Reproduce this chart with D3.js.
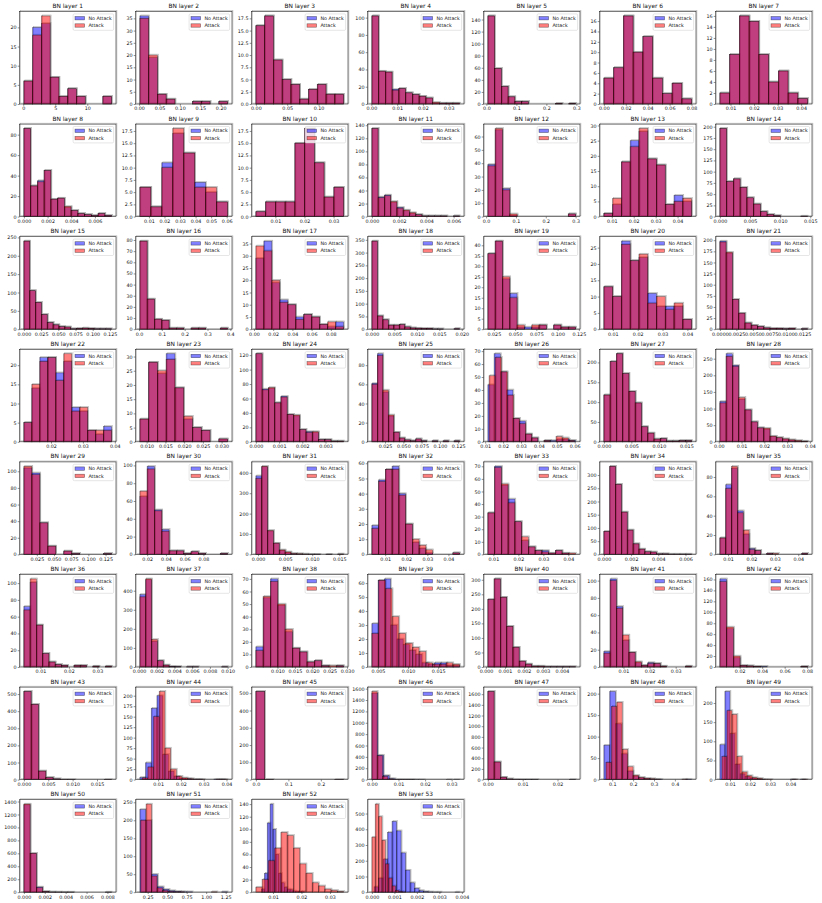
<!DOCTYPE html>
<html><head><meta charset="utf-8">
<script src="https://cdn.jsdelivr.net/npm/d3@7/dist/d3.min.js"></script>
<style>
body{margin:0;background:#fff}
svg{display:block}
text{font-family:"DejaVu Sans",sans-serif;fill:#111}
</style>
</head><body>
<svg id="chart" width="822" height="903"></svg>
<script>
// ---------------- DATA ----------------
const layerTitles = d3.range(1, 54).map(i => "BN layer " + i);
const seriesNames = ["No Attack", "Attack"];

// [first bin edge, bin width] for "No Attack"
const noAttackBins = [
 [0.1,1.37],[0.002,0.0215],[0.0,0.014],[0.0002,0.00262],[0.005,0.0225],[0.0,0.0089],[0.0055,0.00414],
 [0.0,0.00057],[0.0042,0.00705],[0.0033,0.00335],[0.0,0.00046],[0.006,0.0245],[0.0064,0.004],[0.0,0.00112],
 [0.0,0.0085],[0.004,0.032],[0.002,0.0083],[0.0,0.00122],[0.018,0.0086],[0.0064,0.00353],[0.0,0.00095],
 [0.0115,0.0025],[0.0082,0.00234],[0.0,0.00027],[0.007,0.0075],[0.0115,0.0035],[0.0,0.00114],[0.0005,0.00275],
 [0.0062,0.0116],[0.0122,0.0078],[-0.0004,0.00108],[0.0037,0.0032],[0.0078,0.0027],[0.0,0.00043],[0.0065,0.0025],
 [0.0042,0.0022],[0.0001,0.00066],[0.0038,0.0021],[0.004,0.00104],[0.0001,0.00033],[0.0025,0.0024],[0.0024,0.006],
 [0.0,0.0015],[0.002,0.0025],[0.0,0.027],[0.0,0.0022],[0.0,0.0018],[0.06,0.028],[0.005,0.0025],
 [0.0,0.0006],[0.15,0.075],[0.006,0.001],[0.0001,0.0002]
];
// bin layout for "Attack" where it differs (null = same bins as "No Attack")
const attackBins = [
 null,null,null,null,null,null,null,
 null,null,null,null,null,null,null,
 null,null,null,null,null,null,null,
 null,null,null,null,[0.0122,0.0034],null,null,
 null,null,null,null,null,null,null,
 null,null,null,[0.004,0.00112],null,null,null,
 null,[0.003,0.0025],null,[0.0,0.002],null,[0.07,0.026],[0.006,0.0025],
 null,[0.16,0.07],[0.004,0.0022],[0.0,0.00015]
];
const noAttackCounts = [
 [6,20,21,7,2,4,2,0,0,2],
 [36,19,4,2,0,0,1,1,0,1],
 [16,18,9,5,4,1,3,4,2,2],
 [102,38,37,17,18,13,11,9,7,1,1,1,1],
 [146,59,29,12,4,4,0,0,0,0,1,0,1],
 [5,7,17,10,13,5,2,4,1],
 [2,9,16,15,9,4,6,2,1],
 [86,30,35,45,17,18,9,6,3,2,1,3,1],
 [6,2,11,17,13,7,5,3],
 [1,3,3,3,15,18,11,4,6],
 [135,30,33,22,14,9,5,3,1,1,1,1,0,1],
 [39,65,21,1,0,0,0,0,0,0,0,2],
 [1,4,18,25,28,19,17,4,7,5],
 [196,78,84,65,42,28,11,5,2,0,0,0,1],
 [240,105,73,40,18,12,7,6,1,2,3,2,1,1,1],
 [79,27,9,8,1,1,0,1,1,0,0,1],
 [29,36,19,12,10,5,6,5,2,1,3],
 [345,52,37,16,16,18,9,5,4,3,3,1,1,0,0,2],
 [36,42,24,17,1,1,1,2,0,2,1,1],
 [13,10,27,21,22,11,7,7,7,3],
 [198,171,67,36,14,9,6,3,2,2,1,2,0,1],
 [5,14,22,22,18,21,9,8,3,2,4],
 [8,28,24,31,19,8,5,4,0,1],
 [122,73,74,54,63,38,36,17,14,13,3,3,1,1],
 [61,92,52,27,10,4,2,1,3,1,0,1,0,1,0,1],
 [44,68,54,40,18,16,6,3,0,1,1,2,2,1],
 [118,202,222,172,127,98,38,22,7,8,2,2,3,3],
 [121,265,230,128,96,60,42,38,16,12,8,5,2,1],
 [104,98,38,10,0,4,1,0,0,0,1],
 [65,99,50,28,4,4,1,3,1,0,0,1],
 [385,430,115,55,20,9,3,2,1,1,1,0,1,0,1],
 [19,49,56,58,40,20,8,4,1,0,0,0,1],
 [33,70,55,44,26,11,6,3,3,1,3,1,0],
 [87,333,265,160,92,40,20,10,9,2,2,1,1,1,1],
 [17,72,89,45,21,6,4,0,1,0,0,0,0,0,1],
 [72,101,50,16,6,3,2,0,2,2,0,1,0,1],
 [380,458,135,33,10,3,2,0,1,1,0,0,0,0,1],
 [16,55,70,49,28,15,12,4,5,1,0,1],
 [31,62,63,30,20,16,12,9,3,2,3,3,1,1],
 [232,303,240,140,68,20,10,3,3,1,1,1,1,1],
 [18,102,70,31,17,5,2,5,4,1,0,0,0,1],
 [161,70,17,3,2,1,1,0,0,0,0,0,1],
 [515,440,50,12,4,1,1,0,0,0,0,1],
 [5,40,170,200,60,20,8,3,2,1,1,0,0,1,1],
 [510,1,0,0,0,0,0,0,0,1],
 [1520,430,70,15,5,3,2,1,1,0,0,0,0,0,1],
 [1650,330,45,12,5,3,1,1,0,0,0,0,0,1],
 [80,205,130,60,20,8,4,2,1,1,0,0,0,0,1],
 [91,230,120,40,15,8,4,2,1,0,0,0,0,0,1,0,1],
 [1350,600,80,10,3,2,1,1,0,0,0,0,0,1],
 [230,200,50,15,8,4,2,1,1,0,0,0,0,0,1],
 [5,30,110,140,100,60,30,15,8,5,4,2,1,1,1],
 [34,90,210,380,450,390,250,140,60,25,10,4,2,1,1,0,0,0,1]
];
const attackCounts = [
 [6,18,23,7,2,4,2,0,0,2],
 [35,20,4,2,0,0,1,1,0,1],
 [16,18,9,5,4,1,3,4,2,2],
 [102,38,37,16,18,13,11,9,7,2,1,1,1],
 [146,59,29,12,4,4,0,0,0,0,1,0,1],
 [5,7,17,10,13,5,2,4,1],
 [2,9,16,15,9,4,6,2,1],
 [86,30,34,45,17,18,10,6,3,2,1,3,1],
 [6,2,10,18,13,6,6,3],
 [1,3,3,3,15,18,11,4,6],
 [135,29,32,23,13,10,6,3,1,1,1,1,0,1],
 [38,66,20,2,0,0,0,0,0,0,0,2],
 [1,6,18,23,29,19,17,4,5,6],
 [196,78,84,65,42,28,11,5,2,0,0,0,1],
 [240,105,73,40,18,12,7,6,1,2,3,2,1,1,1],
 [79,27,9,8,1,1,0,1,1,0,0,1],
 [34,32,20,11,10,4,6,5,2,3,1],
 [345,52,37,16,16,18,9,5,4,3,3,1,1,0,0,2],
 [36,42,25,15,2,0,2,2,0,2,1,1],
 [13,10,26,21,23,8,10,6,8,3],
 [196,173,67,36,14,9,6,3,2,2,1,2,0,1],
 [5,15,21,22,16,23,8,9,3,3,3],
 [8,28,25,29,19,9,5,4,0,1],
 [122,72,75,54,62,38,37,17,13,14,3,3,1,1],
 [60,90,54,28,10,4,2,1,3,1,0,1,0,1,0,1],
 [51,65,54,36,18,14,6,3,0,1,0,4,3,1],
 [118,202,222,172,127,98,38,22,7,8,2,2,3,3],
 [117,257,227,133,96,60,42,41,17,13,9,6,4,2],
 [106,96,38,10,0,4,1,0,0,0,1],
 [71,96,49,26,4,4,1,3,1,0,0,1],
 [372,432,117,55,22,12,4,3,2,1,1,0,1,0,2],
 [17,48,56,56,39,20,10,6,3,0,0,0,1],
 [33,69,56,41,26,14,6,3,2,1,3,1,1],
 [87,333,265,160,92,40,20,10,9,2,2,1,1,1,1],
 [17,68,91,43,25,5,4,0,1,1,0,0,0,0,1],
 [68,105,50,16,6,3,2,0,2,2,0,1,0,1],
 [368,462,145,33,10,2,1,0,1,1,0,0,0,0,1],
 [13,56,68,50,30,15,12,4,5,1,1,1],
 [24,62,56,36,24,17,14,11,3,2,2,3,2],
 [232,303,240,140,68,20,10,3,3,1,1,1,1,1],
 [16,100,68,37,17,6,2,4,4,1,0,0,0,1],
 [156,73,20,3,2,1,0,0,0,0,0,0,1],
 [515,440,50,12,4,1,1,0,0,0,0,1],
 [4,30,150,210,75,25,8,4,2,1,1,0,0,1,1],
 [510,1,0,0,0,0,0,0,0,1],
 [1550,420,55,12,4,3,2,1,0,0,0,0,0,0,1],
 [1650,330,45,12,5,3,1,1,0,0,0,0,0,1],
 [40,170,180,70,30,10,5,3,2,1,0,0,0,0,1],
 [60,180,170,60,20,10,5,3,1,1,0,0,0,0,1,0,1],
 [1360,600,70,10,3,2,1,1,0,0,0,0,0,1],
 [200,245,45,12,5,2,1,1,0,0,0,0,0,1],
 [8,20,50,70,95,90,70,45,30,15,10,5,3,1],
 [350,560,480,330,180,90,40,12,4,2]
];
const xTickLabels = [
 ["0","5","10"],["0.00","0.05","0.10","0.15","0.20"],["0.00","0.05","0.10"],["0.00","0.01","0.02","0.03"],
 ["0.0","0.1","0.2","0.3"],["0.00","0.02","0.04","0.06","0.08"],["0.01","0.02","0.03","0.04"],
 ["0.000","0.002","0.004","0.006"],["0.01","0.02","0.03","0.04","0.05","0.06"],["0.01","0.02","0.03"],
 ["0.000","0.002","0.004","0.006"],["0.0","0.1","0.2","0.3"],["0.01","0.02","0.03","0.04"],
 ["0.000","0.005","0.010","0.015"],
 ["0.000","0.025","0.050","0.075","0.100","0.125"],["0.0","0.1","0.2","0.3","0.4"],
 ["0.00","0.02","0.04","0.06","0.08"],["0.000","0.005","0.010","0.015","0.020"],
 ["0.025","0.050","0.075","0.100","0.125"],["0.01","0.02","0.03","0.04"],
 ["0.0000","0.0025","0.0050","0.0075","0.0100","0.0125"],
 ["0.01","0.02","0.03","0.04"],["0.010","0.015","0.020","0.025","0.030"],
 ["0.000","0.001","0.002","0.003","0.004"],["0.025","0.050","0.075","0.100","0.125"],
 ["0.01","0.02","0.03","0.04","0.05","0.06"],["0.000","0.005","0.010","0.015"],
 ["0.00","0.01","0.02","0.03","0.04"],
 ["0.025","0.050","0.075","0.100","0.125"],["0.02","0.04","0.06","0.08"],
 ["0.000","0.005","0.010","0.015"],["0.01","0.02","0.03","0.04"],["0.01","0.02","0.03","0.04"],
 ["0.000","0.002","0.004","0.006"],["0.01","0.02","0.03","0.04"],
 ["0.01","0.02","0.03"],["0.000","0.002","0.004","0.006","0.008","0.010"],
 ["0.010","0.015","0.020","0.025","0.030"],["0.005","0.010","0.015"],
 ["0.000","0.001","0.002","0.003","0.004","0.005"],["0.01","0.02","0.03"],["0.02","0.04","0.06","0.08"],
 ["0.000","0.005","0.010","0.015"],["0.00","0.01","0.02","0.03","0.04"],["0.0","0.1","0.2"],
 ["0.00","0.01","0.02","0.03"],["0.00","0.01","0.02"],["0.1","0.2","0.3","0.4"],["0.01","0.02","0.03","0.04"],
 ["0.000","0.002","0.004","0.006","0.008"],["0.25","0.50","0.75","1.00","1.25"],["0.01","0.02","0.03"],
 ["0.000","0.001","0.002","0.003","0.004"]
];
const yTickStep = [
 5,5,2.5,20,20,2,2,
 20,2.5,2.5,20,10,5,25,
 50,10,5,50,5,5,25,
 5,5,20,20,10,50,50,
 20,20,100,10,10,50,20,
 20,100,10,10,50,20,20,
 100,25,100,200,200,50,50,
 200,50,20,100
];

// ---------------- LAYOUT ----------------
const W = 822, H = 903;
const nCols = 7;
const left0 = 19.5, colPitch = 116, axW = 96.5;
const top0 = 11.5, rowPitch = 112.6, axH = 92.5;
const colors = ["#0000ff", "#ff0000"];
const fsTick = 4.8, fsTitle = 5.9, fsLegend = 4.8;
const ghost = { dx: 0.9, dy: -0.9, color: "#b0b0b0" };

const svg = d3.select("#chart");
svg.append("rect").attr("width", W).attr("height", H).attr("fill", "#fff");

layerTitles.forEach((title, i) => {
  const c = i % nCols, r = Math.floor(i / nCols);
  const g = svg.append("g").attr("transform", `translate(${left0 + c * colPitch},${top0 + r * rowPitch})`);

  const series = [
    { bins: noAttackBins[i], counts: noAttackCounts[i] },
    { bins: attackBins[i] || noAttackBins[i], counts: attackCounts[i] }
  ].map(s => {
    const [x0, w] = s.bins;
    return s.counts.map((n, k) => ({ a: x0 + k * w, b: x0 + (k + 1) * w, n }));
  });

  const all = series.flat();
  const lo = d3.min(all, d => d.a), hi = d3.max(all, d => d.b);
  const span = hi - lo;
  const x = d3.scaleLinear().domain([lo - 0.05 * span, hi + 0.05 * span]).range([0, axW]);
  const yMax = d3.max(all, d => d.n) * 1.05;
  const y = d3.scaleLinear().domain([0, yMax]).range([axH, 0]);

  // faint offset outline (soft halo seen in the reference rendering)
  g.append("rect").attr("x", ghost.dx).attr("y", ghost.dy).attr("width", axW).attr("height", axH)
    .attr("fill", "none").attr("stroke", ghost.color).attr("stroke-width", 0.6);
  series.forEach(bars => {
    g.append("g").selectAll("rect").data(bars.filter(d => d.n > 0)).join("rect")
      .attr("x", d => x(d.a) + ghost.dx).attr("width", d => x(d.b) - x(d.a))
      .attr("y", d => y(d.n) + ghost.dy).attr("height", d => axH - y(d.n))
      .attr("fill", "none").attr("stroke", ghost.color).attr("stroke-width", 0.6);
  });

  // bars
  series.forEach((bars, s) => {
    g.append("g").selectAll("rect").data(bars).join("rect")
      .attr("x", d => x(d.a)).attr("width", d => x(d.b) - x(d.a))
      .attr("y", d => y(d.n)).attr("height", d => axH - y(d.n))
      .attr("fill", colors[s]).attr("fill-opacity", 0.5)
      .attr("stroke", "#000").attr("stroke-opacity", 0.5).attr("stroke-width", 0.7);
  });

  // x axis (only ticks inside the view limits, as matplotlib does)
  const [d0, d1] = x.domain();
  const xt = xTickLabels[i].filter(t => +t >= d0 - 1e-12 && +t <= d1 + 1e-12);
  const xv = xt.map(Number);
  const xa = g.append("g").attr("transform", `translate(0,${axH})`)
    .call(d3.axisBottom(x).tickValues(xv).tickFormat((d, k) => xt[k]).tickSize(1.8).tickPadding(1.2));
  // y axis
  const step = yTickStep[i];
  const dec = step % 1 ? 1 : 0;
  const yv = d3.range(0, yMax + 1e-9, step);
  const ya = g.append("g")
    .call(d3.axisLeft(y).tickValues(yv).tickFormat(d => d.toFixed(dec)).tickSize(1.8).tickPadding(1.2));
  [xa, ya].forEach(a => {
    a.select(".domain").remove();
    a.selectAll("line").attr("stroke", "#222").attr("stroke-width", 0.5);
    a.selectAll("text").attr("font-size", fsTick).attr("fill", "#111").style("font-family", "'DejaVu Sans'");
  });

  // frame
  g.append("rect").attr("width", axW).attr("height", axH)
    .attr("fill", "none").attr("stroke", "#222").attr("stroke-width", 0.6);

  // title
  g.append("text").attr("x", axW / 2).attr("y", -3.6).attr("text-anchor", "middle")
    .attr("font-size", fsTitle).text(title);

  // legend
  const lw = 40.5, lh = 16.4;
  const lg = g.append("g").attr("transform", `translate(${axW - 2.4 - lw},${2.4})`);
  lg.append("rect").attr("width", lw).attr("height", lh).attr("rx", 1.2)
    .attr("fill", "#fff").attr("fill-opacity", 0.8).attr("stroke", "#ccc").attr("stroke-width", 0.5);
  seriesNames.forEach((name, s) => {
    const cy = 4.3 + s * 7.3;
    lg.append("rect").attr("x", 1.9).attr("y", cy - 1.7).attr("width", 9.6).attr("height", 3.4)
      .attr("fill", colors[s]).attr("fill-opacity", 0.5)
      .attr("stroke", "#000").attr("stroke-opacity", 0.5).attr("stroke-width", 0.6);
    lg.append("text").attr("x", 15.3).attr("y", cy).attr("dy", "0.35em")
      .attr("font-size", fsLegend).text(name);
  });
});
</script>
</body></html>
